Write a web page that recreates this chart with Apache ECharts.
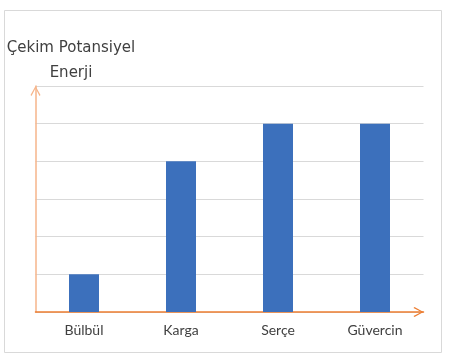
<!DOCTYPE html>
<html>
<head>
<meta charset="utf-8">
<script src="https://cdn.jsdelivr.net/npm/echarts@6/dist/echarts.min.js"></script>
<style>
html,body{margin:0;padding:0;background:#fff;}
#c{width:451px;height:360px;}
</style>
</head>
<body>
<div id="c"></div>
<script>
const categories = ["Bülbül", "Karga", "Serçe", "Güvercin"];
const values = [1, 4, 5, 5];
const yTitle = "Çekim Potansiyel\nEnerji";

const chevron = 'path://M5,0 L10,9 L9,10 L5,2.2 L1,10 L0,9 Z';
const chart = echarts.init(document.getElementById('c'));
chart.setOption({
  animation: false,
  graphic: [{
    type: 'rect', left: 4, top: 10, z: -1,
    shape: { width: 437, height: 342 },
    style: { fill: '#fff', stroke: '#d9d9d9', lineWidth: 1 }
  }],
  title: {
    text: yTitle,
    left: 66, top: 31,
    textAlign: 'center',
    textStyle: { fontFamily: 'DejaVu Sans', fontSize: 15, fontWeight: 'normal', color: '#404040', lineHeight: 25, align: 'center' }
  },
  grid: { left: 35.5, right: 27.5, top: 86, bottom: 48, containLabel: false },
  xAxis: {
    type: 'category',
    data: categories,
    axisLine: { show: true, lineStyle: { color: '#ed7d31', width: 1.5 }, symbol: ['none', chevron], symbolSize: [12, 10], symbolOffset: [0, -5] },
    axisTick: { show: false },
    axisLabel: { color: '#404040', fontSize: 14, fontFamily: 'Lato', margin: 11 }
  },
  yAxis: {
    type: 'value', min: 0, max: 6, interval: 1,
    axisLine: { show: true, lineStyle: { color: '#f6b58a', width: 1.5 }, symbol: ['none', chevron], symbolSize: [11, 10], symbolOffset: [0, -5] },
    axisTick: { show: false },
    axisLabel: { show: false },
    splitLine: { show: true, lineStyle: { color: '#d9d9d9', width: 1 } }
  },
  series: [{
    type: 'bar',
    data: values,
    barWidth: 30,
    itemStyle: { color: '#3c70bc' }
  }]
});
</script>
</body>
</html>
